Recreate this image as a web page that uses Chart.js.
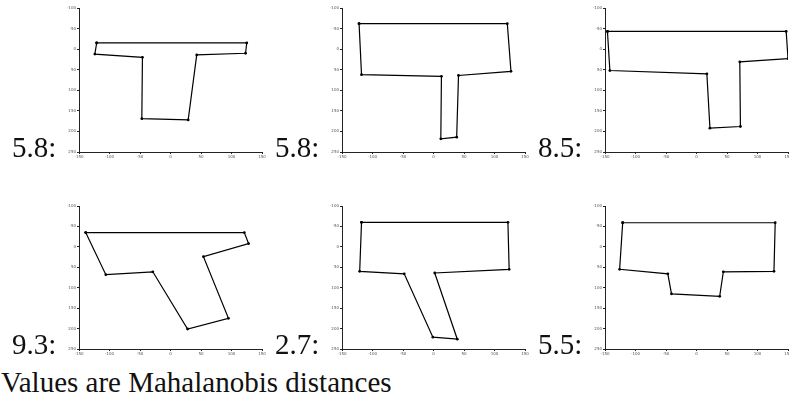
<!DOCTYPE html>
<html>
<head>
<meta charset="utf-8">
<script src="https://cdn.jsdelivr.net/npm/chart.js@4/dist/chart.umd.min.js"></script>
<style>
  html, body { margin: 0; padding: 0; background: #fff; overflow: hidden; }
  #wrap { position: relative; width: 789px; height: 400px; }
  .panel { position: absolute; width: 215px; }
  .lbl, #caption {
    position: absolute;
    font-family: "Liberation Serif", "DejaVu Serif", serif;
    font-size: 29px;
    line-height: 29px;
    color: #111;
    white-space: nowrap;
  }
</style>
</head>
<body>
<div id="wrap"></div>
<script>
// Mahalanobis distance shown next to each shape
const distances = ['5.8', '5.8', '8.5', '9.3', '2.7', '5.5'];

// outline points of each T shape (clockwise from top-left)
const shape1X = [-121, 125, 123, 43, 29, -47, -46, -124];
const shape1Y = [-15, -15, 10, 14, 172, 169, 20, 12];
const shape2X = [-122, 121, 127, 41, 38, 12, 13, -118];
const shape2Y = [-62, -62, 54, 64, 214, 218, 66, 62];
const shape3X = [-146, 147, 150, 71, 72, 22, 17, -142];
const shape3Y = [-43, -43, 23, 31, 188, 192, 60, 52];
const shape4X = [-139, 121, 128, 54, 95, 28, -29, -106];
const shape4Y = [-35, -35, -8, 24, 175, 201, 61, 68];
const shape5X = [-118, 122, 124, 2, 39, -1, -48, -121];
const shape5Y = [-60, -60, 55, 64, 226, 221, 66, 60];
const shape6X = [-121, 129, 127, 44, 38, -41, -47, -126];
const shape6Y = [-59, -59, 60, 61, 121, 115, 66, 55];

const xTicks = [-150, -100, -50, 0, 50, 100, 150];
const yTicks = [-100, -50, 0, 50, 100, 150, 200, 250];

const shapesX = [shape1X, shape2X, shape3X, shape4X, shape5X, shape6X];
const shapesY = [shape1Y, shape2Y, shape3Y, shape4Y, shape5Y, shape6Y];

const wrap = document.getElementById('wrap');
const rowTops = [0, 198];
const rowHeights = [162, 161];

function axisOpts(ticks, isY) {
    return {
        type: 'linear',
        min: ticks[0],
        max: ticks[ticks.length - 1],
        reverse: isY,
        afterBuildTicks: s => { s.ticks = ticks.map(v => ({ value: v })); },
        afterFit: s => { if (isY) s.width = 24; else s.height = 10; },
        border: { display: true, color: '#222', width: 1 },
        grid: { display: true, drawOnChartArea: false, drawTicks: true, tickLength: 2, color: '#222' },
        ticks: {
            font: { size: 4, family: 'DejaVu Sans' },
            color: '#555',
            padding: 1,
            maxRotation: 0,
            autoSkip: false
        }
    };
}

for (let i = 0; i < 6; i++) {
    const row = Math.floor(i / 3), col = i % 3;
    const div = document.createElement('div');
    div.className = 'panel';
    div.style.left = (263 * col + 55) + 'px';
    div.style.top = rowTops[row] + 'px';
    div.style.height = rowHeights[row] + 'px';
    const canvas = document.createElement('canvas');
    div.appendChild(canvas);
    wrap.appendChild(div);

    const lbl = document.createElement('div');
    lbl.className = 'lbl';
    lbl.textContent = distances[i] + ':';
    lbl.style.left = (263 * col + 12) + 'px';
    lbl.style.top = (rowTops[row] + rowHeights[row] - 29) + 'px';
    wrap.appendChild(lbl);

    const pts = shapesX[i].map((x, k) => ({ x: x, y: shapesY[i][k] }));
    pts.push(pts[0]);

    new Chart(canvas, {
        type: 'scatter',
        data: {
            datasets: [{
                data: pts,
                showLine: true,
                borderColor: '#000',
                borderWidth: 1.2,
                backgroundColor: '#000',
                pointRadius: 1.4,
                pointBorderWidth: 0
            }]
        },
        options: {
            responsive: true,
            maintainAspectRatio: false,
            animation: false,
            events: [],
            layout: { padding: { top: 8, right: 8, left: 0, bottom: 0 } },
            plugins: { legend: { display: false }, tooltip: { enabled: false } },
            scales: {
                x: axisOpts(xTicks, false),
                y: axisOpts(yTicks, true)
            }
        }
    });
}

const cap = document.createElement('div');
cap.id = 'caption';
cap.textContent = 'Values are Mahalanobis distances';
cap.style.left = '1px';
cap.style.top = '368px';
wrap.appendChild(cap);
</script>
</body>
</html>
